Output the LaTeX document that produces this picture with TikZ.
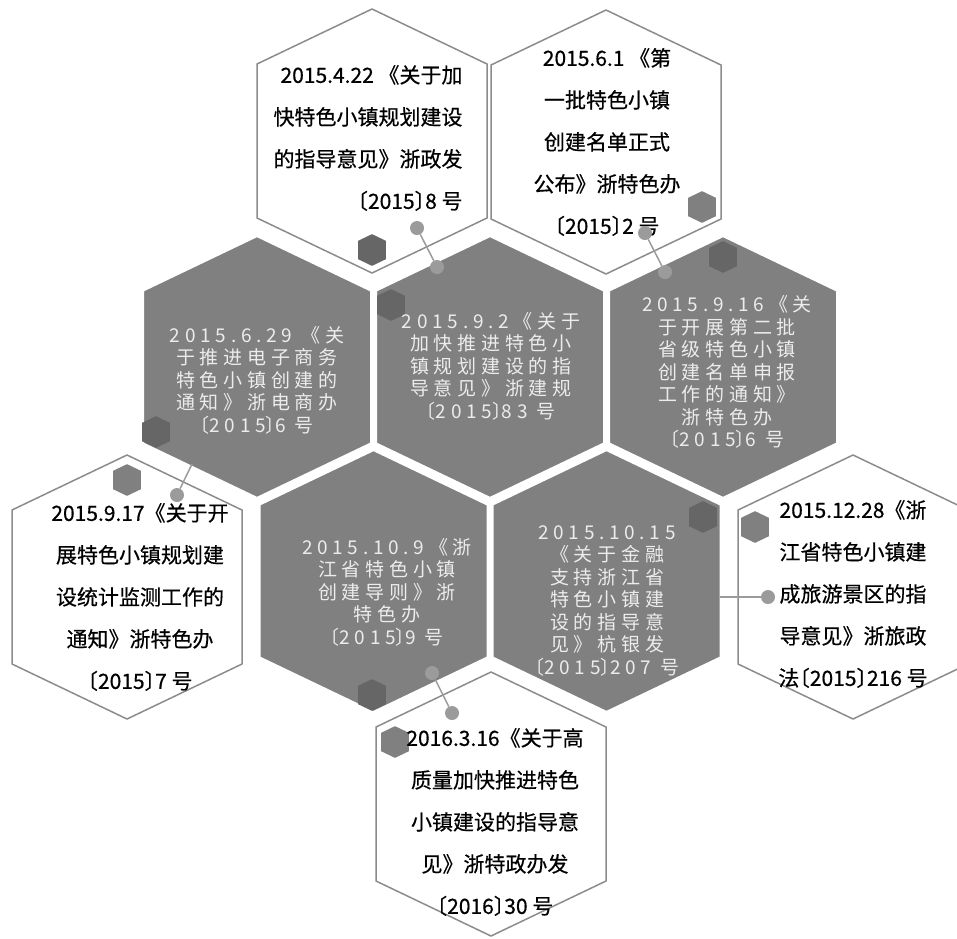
\documentclass[tikz,border=0pt]{standalone}
\usepackage{fontspec}
\usepackage{tikz}
\usetikzlibrary{positioning}
\newfontfamily\cjk[FakeBold=0.5]{Noto Sans CJK SC}
\newfontfamily\cjklight[LetterSpace=25]{Noto Sans CJK SC}
\definecolor{hexgray}{RGB}{128,128,128}
\definecolor{hexdark}{RGB}{102,102,102}
\definecolor{hexmid}{RGB}{128,128,128}
\definecolor{edgegray}{RGB}{140,140,140}
\definecolor{dotgray}{RGB}{155,155,155}
\definecolor{textlight}{RGB}{236,236,236}
\newcommand{\yr}[1]{{\addfontfeature{RawFeature=+halt}〔}#1{\addfontfeature{RawFeature=+halt}〕}}

\begin{document}
\begin{tikzpicture}[x=1pt,y=-1pt,
        hexa/.pic={\path[pic actions] (-115,-77) -- (-115,77) -- (0,132) -- (115,77) -- (115,-77) -- (0,-132) -- cycle;},
        grayhex/.style={fill=hexgray,draw=white,line width=4pt},
        whitehex/.style={fill=white,draw=edgegray,line width=1.5pt},
        smallhex/.style={scale=0.12,fill=#1},
        darktext/.style={font=\cjk\fontsize{21}{42}\selectfont,align=center,inner sep=0pt},
        lighttext/.style={font=\cjklight\fontsize{19}{22.5}\selectfont,align=center,inner sep=0pt,text=textlight},
        dot/.style={circle,fill=dotgray,inner sep=0pt,minimum size=14pt},
        link/.style={draw=dotgray,line width=1.5pt}]
    \useasboundingbox (0,0) rectangle (957,938);

    % honeycomb
    \pic[grayhex] at (257,367) {hexa};
    \pic[grayhex] at (490,367) {hexa};
    \pic[grayhex] at (723,367) {hexa};
    \pic[grayhex] at (373.5,581) {hexa};
    \pic[grayhex] at (606.5,581) {hexa};

    % outer cells
    \pic[whitehex] at (372,141) {hexa};
    \pic[whitehex] at (606,142) {hexa};
    \pic[whitehex] at (127,587) {hexa};
    \pic[whitehex] at (853,587) {hexa};
    \pic[whitehex] at (491,804) {hexa};

    \foreach \x/\y/\c in {372/250/hexdark, 702/207/hexmid, 723/257/hexdark,
        156/432/hexdark, 391/305/hexdark, 127/480/hexmid, 372/695/hexdark,
        703/517/hexdark, 755/527/hexmid, 395/742/hexmid}
        \pic[smallhex=\c] at (\x,\y) {hexa};

    \node[lighttext] (t629) at (257,380) {2015.6.29 《关\\于推进电子商务\\特色小镇创建的\\通知》浙电商办\\\yr{2015}6 号};
    \node[lighttext] (t92) at (491,366) {2015.9.2《关于\\加快推进特色小\\镇规划建设的指\\导意见》浙建规\\\yr{2015}83 号};
    \node[lighttext] (t916) at (727,372) {2015.9.16《关\\于开展第二批\\省级特色小镇\\创建名单申报\\工作的通知》\\浙特色办\\\yr{2015}6 号};
    \node[lighttext] (t109) at (387,592) {2015.10.9《浙\\江省特色小镇\\创建导则》浙\\特色办\\\yr{2015}9 号};
    \node[lighttext] (t1015) at (607,601) {2015.10.15\\《关于金融\\支持浙江省\\特色小镇建\\设的指导意\\见》杭银发\\\yr{2015}207 号};

    \node[darktext,align=right] (t422) at (368,138) {2015.4.22 《关于加\\快特色小镇规划建设\\的指导意见》浙政发\\\yr{2015}8 号};
    \node[darktext] (t61) at (607,142) {2015.6.1 《第\\一批特色小镇\\创建名单正式\\公布》浙特色办\\\yr{2015}2 号};
    \node[darktext] (t917) at (140,597) {2015.9.17《关于开\\展特色小镇规划建\\设统计监测工作的\\通知》浙特色办\\\yr{2015}7 号};
    \node[darktext] (t1228) at (853,594) {2015.12.28《浙\\江省特色小镇建\\成旅游景区的指\\导意见》浙旅政\\法\yr{2015}216 号};
    \node[darktext] (t316) at (495,822) {2016.3.16《关于高\\质量加快推进特色\\小镇建设的指导意\\见》浙特政办发\\\yr{2016}30 号};

    % connectors
    \node[dot] (d1a) at (417,228) {};
    \node[dot] (d1b) at (437,267) {};
    \node[dot] (d2a) at (645,233) {};
    \node[dot] (d2b) at (665,272) {};
    \node[dot] (d3) at (177,495) {};
    \coordinate (c3) at (192,464);
    \node[dot] (d4a) at (432,673) {};
    \node[dot] (d4b) at (452,713) {};
    \node[dot] (d5) at (768,597) {};
    \coordinate (c5) at (720,597);
    \draw[link] (d1a) -- (d1b);
    \draw[link] (d2a) -- (d2b);
    \draw[link] (d3) -- (c3);
    \draw[link] (d4a) -- (d4b);
    \draw[link] (c5) -- (d5);
\end{tikzpicture}
\end{document}
